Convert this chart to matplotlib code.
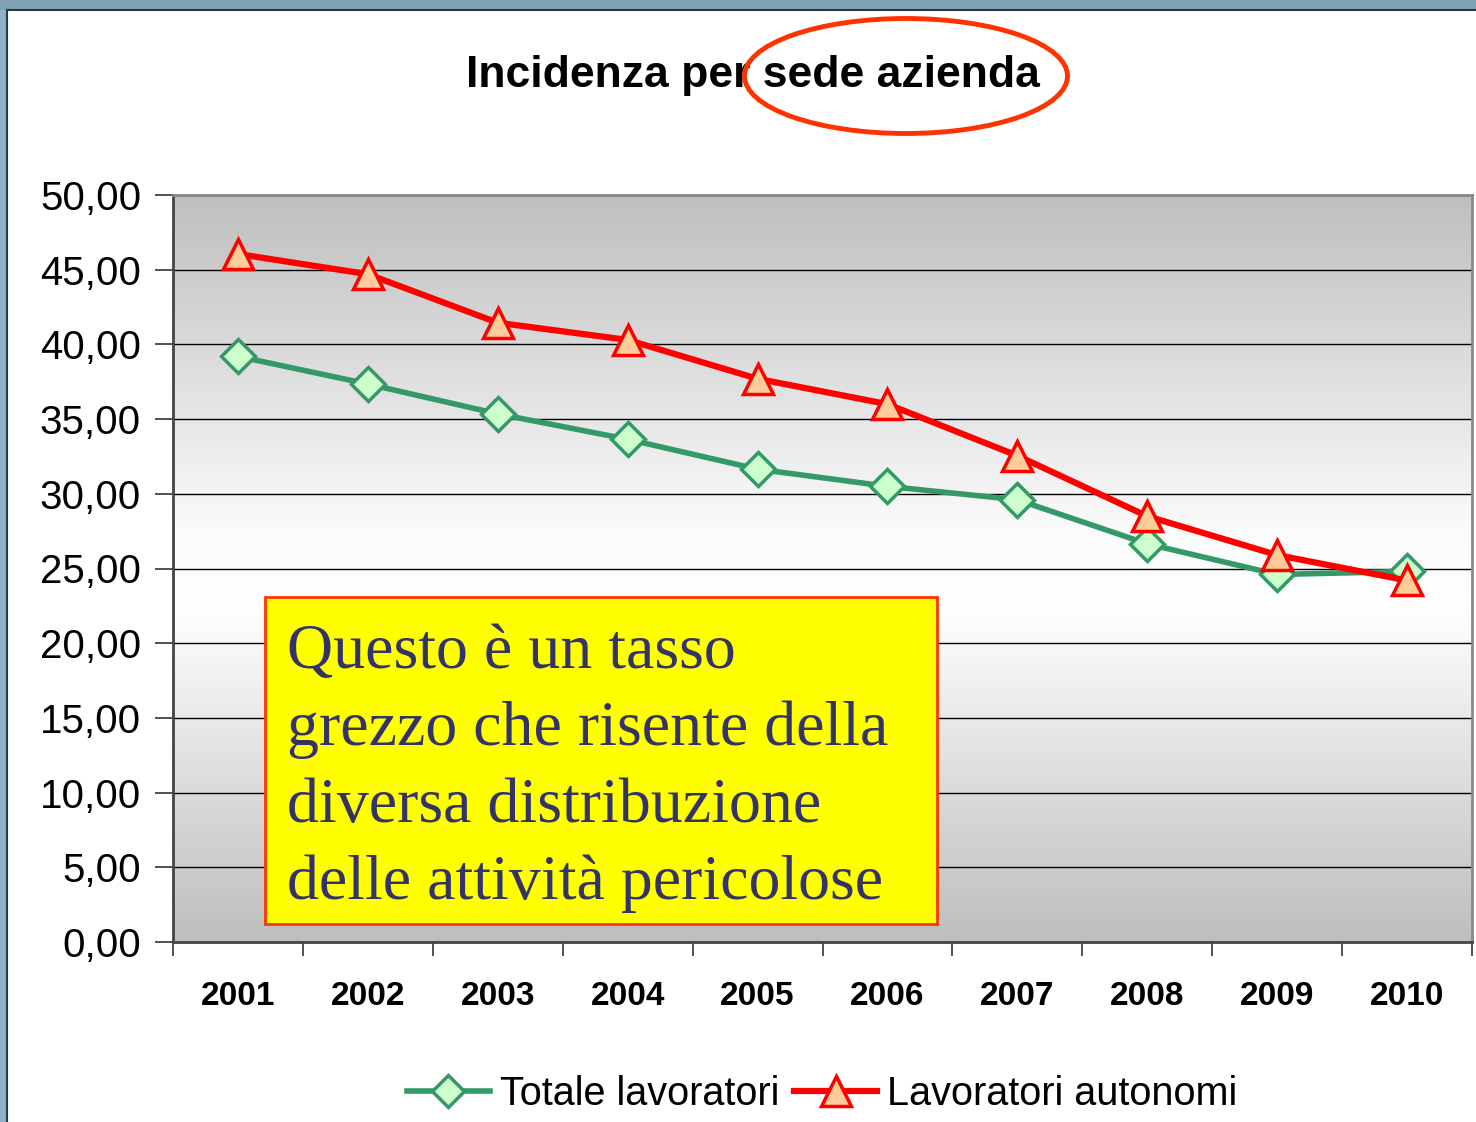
import numpy as np
import matplotlib
matplotlib.use("Agg")
import matplotlib.pyplot as plt
from matplotlib.patches import Ellipse, Rectangle
from matplotlib.colors import LinearSegmentedColormap

years = ["2001", "2002", "2003", "2004", "2005", "2006", "2007", "2008", "2009", "2010"]
totale = [39.2, 37.35, 35.35, 33.65, 31.65, 30.5, 29.6, 26.65, 24.6, 24.8]
autonomi = [46.05, 44.7, 41.45, 40.3, 37.7, 36.0, 32.55, 28.5, 25.9, 24.2]
yticks = [0, 5, 10, 15, 20, 25, 30, 35, 40, 45, 50]
ytick_labels = ["0,00", "5,00", "10,00", "15,00", "20,00", "25,00", "30,00", "35,00", "40,00", "45,00", "50,00"]

W, H = 1476, 1122
fig = plt.figure(figsize=(W / 100, H / 100), dpi=100)
fig.patch.set_facecolor("white")

# slide border decorations
fig.patches.append(Rectangle((0, 0), 7 / W, 1, transform=fig.transFigure, facecolor="#8fb3c6", edgecolor="none", zorder=0))
fig.patches.append(Rectangle((0, 1 - 10 / H), 1, 10 / H, transform=fig.transFigure, facecolor="#7fa2b5", edgecolor="none", zorder=0))
fig.lines.append(plt.Line2D([7 / W, 7 / W], [0, 1 - 10 / H], transform=fig.transFigure, color="#2a3a44", lw=1.5))
fig.lines.append(plt.Line2D([7 / W, 1], [1 - 10 / H, 1 - 10 / H], transform=fig.transFigure, color="#2a3a44", lw=1.5))

left, right, top, bottom = 173, 1472, 195, 942
ax = fig.add_axes([left / W, 1 - bottom / H, (right - left) / W, (bottom - top) / H])

x = np.arange(len(years))
ax.set_xlim(-0.5, len(years) - 0.5)
ax.set_ylim(0, 50)

# gradient background (bottom -> top)
cmap = LinearSegmentedColormap.from_list("bg", [(0, "#bebebe"), (0.45, "#ffffff"), (0.55, "#fbfbfb"), (1.0, "#bfbfbf")])
grad = np.linspace(0, 1, 256).reshape(-1, 1)
ax.imshow(grad, extent=(-0.5, len(years) - 0.5, 0, 50), aspect="auto", cmap=cmap, origin="lower", zorder=0)

for yv in yticks[1:]:
    ax.axhline(yv, color="black", lw=1, zorder=1)

ax.plot(x, totale, color="#339966", lw=4, marker="D", markersize=17, markerfacecolor="#ccffcc",
        markeredgecolor="#339966", markeredgewidth=2.5, zorder=3, label="Totale lavoratori")
ax.plot(x, autonomi, color="#ff0000", lw=4.5, marker="^", markersize=22, markerfacecolor="#ffcc99",
        markeredgecolor="#ff0000", markeredgewidth=2.5, zorder=4, label="Lavoratori autonomi")

ax.set_yticks(yticks)
ax.set_yticklabels(ytick_labels, fontsize=29, family="Liberation Sans")
ax.set_xticks(x)
ax.set_xticklabels(years, fontsize=24, fontweight="bold", family="Liberation Sans")
ax.set_xticks(np.arange(-0.5, len(years), 1), minor=True)
ax.tick_params(axis="x", which="major", length=0, pad=28)
ax.tick_params(axis="x", which="minor", length=10, width=1.2, color="#333333", direction="out")
ax.tick_params(axis="y", which="major", length=13, width=1.2, color="#333333", direction="out", pad=10)

for s in ["left", "bottom"]:
    ax.spines[s].set_color("#444444")
    ax.spines[s].set_linewidth(2)
for s in ["right", "top"]:
    ax.spines[s].set_color("#888888")
    ax.spines[s].set_linewidth(2)

# title
fig.text(753 / W, 1 - 75 / H, "Incidenza per sede azienda", ha="center", va="center",
         fontsize=32, fontweight="bold", family="Liberation Sans")
fig.patches.append(Ellipse((906 / W, 1 - 76 / H), 323 / W, 115 / H, transform=fig.transFigure,
                           facecolor="none", edgecolor="#ff3300", lw=3.5, zorder=5))

# annotation box
fig.patches.append(Rectangle((265 / W, 1 - 924 / H), (937 - 265) / W, (924 - 597) / H, transform=fig.transFigure,
                             facecolor="#ffff00", edgecolor="#ff3300", lw=2, zorder=5))
box_lines = ["Questo è un tasso", "grezzo che risente della", "diversa distribuzione", "delle attività pericolose"]
for i, line in enumerate(box_lines):
    fig.text(287 / W, 1 - (668 + 77 * i) / H, line, ha="left", va="baseline", fontsize=46,
             family="Liberation Serif", color="#333366", zorder=6)

leg = ax.legend(loc="center", bbox_to_anchor=(822 / W, 1 - 1094 / H), bbox_transform=fig.transFigure,
                ncol=2, frameon=False, prop={"family": "Liberation Sans", "size": 28.5},
                handlelength=2.1, handletextpad=0.25, columnspacing=0.38, markerscale=0.95)

fig.savefig("out.png", dpi=100, facecolor="white")
